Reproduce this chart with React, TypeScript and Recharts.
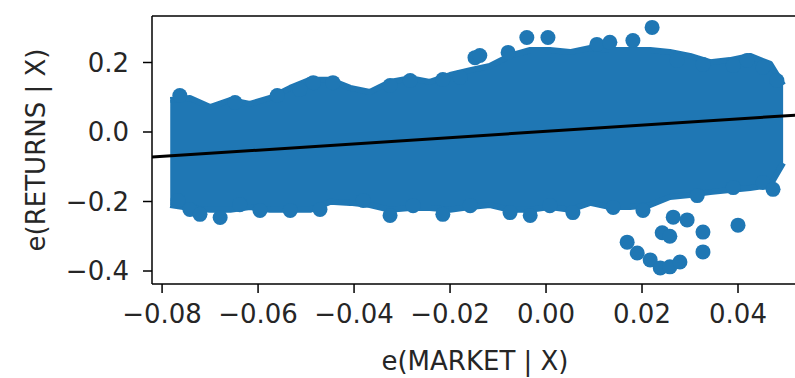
import React from "react";
import {
  ComposedChart,
  Scatter,
  Area,
  Line,
  XAxis,
  YAxis,
  ReferenceLine,
} from "recharts";

// dense core of the cloud: upper / lower edge
const coreX = [-0.0783, -0.0742, -0.07, -0.0658, -0.0617, -0.0575, -0.0533, -0.0492, -0.045, -0.0408, -0.0367, -0.0325, -0.0283, -0.0242, -0.02, -0.0158, -0.0117, -0.0075, -0.0033, 0.0008, 0.005, 0.0092, 0.0133, 0.0175, 0.0217, 0.0258, 0.03, 0.0342, 0.0383, 0.0425, 0.0467, 0.0494];
const coreHi = [0.092, 0.098, 0.072, 0.092, 0.081, 0.098, 0.127, 0.15, 0.15, 0.127, 0.115, 0.144, 0.155, 0.144, 0.164, 0.178, 0.19, 0.22, 0.236, 0.236, 0.23, 0.242, 0.236, 0.236, 0.236, 0.23, 0.219, 0.201, 0.207, 0.219, 0.196, 0.135];
const coreLo = [-0.21, -0.219, -0.224, -0.224, -0.216, -0.224, -0.224, -0.224, -0.201, -0.204, -0.21, -0.224, -0.219, -0.219, -0.224, -0.216, -0.21, -0.224, -0.224, -0.216, -0.224, -0.204, -0.216, -0.216, -0.21, -0.187, -0.181, -0.173, -0.167, -0.161, -0.153, -0.089];

// points along the top of the cloud
const topX = [-0.0763, -0.0648, -0.056, -0.0513, -0.0485, -0.0444, -0.0325, -0.0283, -0.0215, -0.0179, -0.0148, -0.0138, -0.0079, -0.004, 0.0004, 0.0106, 0.0133, 0.0181, 0.0221, 0.0273, 0.0327, 0.039, 0.0419, 0.0452, 0.0481];
const topY = [0.105, 0.085, 0.105, 0.122, 0.142, 0.142, 0.134, 0.148, 0.151, 0.157, 0.214, 0.22, 0.229, 0.272, 0.272, 0.252, 0.258, 0.263, 0.301, 0.206, 0.194, 0.191, 0.206, 0.186, 0.148];

// points along the bottom of the cloud
const bottomX = [-0.0767, -0.0742, -0.0721, -0.0679, -0.0638, -0.0596, -0.0533, -0.0471, -0.0381, -0.0325, -0.0277, -0.0215, -0.0158, -0.0075, -0.0033, 0.0008, 0.0056, 0.014, 0.0202, 0.0315, 0.039, 0.0452, 0.0473];
const bottomY = [-0.197, -0.223, -0.237, -0.246, -0.209, -0.226, -0.226, -0.223, -0.197, -0.24, -0.212, -0.237, -0.212, -0.232, -0.24, -0.212, -0.232, -0.217, -0.226, -0.183, -0.16, -0.145, -0.165];

// stray points below the cloud
const outX = [0.0169, 0.019, 0.0217, 0.0238, 0.0258, 0.0279, 0.0242, 0.0265, 0.0294, 0.0327, 0.0327, 0.04, 0.0258];
const outY = [-0.317, -0.348, -0.368, -0.391, -0.388, -0.374, -0.29, -0.245, -0.253, -0.288, -0.345, -0.268, -0.3];

// fitted line end points
const fitX = [-0.0821, 0.0525];
const fitY = [-0.072, 0.049];

const xTicks = [-0.08, -0.06, -0.04, -0.02, 0.0, 0.02, 0.04];
const yTicks = [-0.4, -0.2, 0.0, 0.2];

const BLUE = "#1f77b4";
const FONT = "DejaVu Sans";

const fmtX = (v: number) => v.toFixed(2).replace("-", "\u2212");
const fmtY = (v: number) => v.toFixed(1).replace("-", "\u2212");

const dot = (p: any) => <circle cx={p.cx} cy={p.cy} r={7.5} fill={BLUE} />;

export default function App() {
  const core = coreX.map((x, i) => ({ x, lo: coreLo[i], hi: coreHi[i] }));
  const points = [
    ...topX.map((x, i) => ({ x, y: topY[i] })),
    ...bottomX.map((x, i) => ({ x, y: bottomY[i] })),
    ...outX.map((x, i) => ({ x, y: outY[i] })),
  ];
  const fit = fitX.map((x, i) => ({ x, y: fitY[i] }));

  return (
    <div style={{ position: "absolute", left: 0, top: 0, width: 795, height: 378, overflow: "hidden", background: "#fff" }}>
      <ComposedChart
        width={798}
        height={378}
        margin={{ top: 16, right: 0, left: 0, bottom: 0 }}
        style={{ fontFamily: FONT }}
      >
        <XAxis
          type="number"
          dataKey="x"
          domain={[-0.0821, 0.0525]}
          ticks={xTicks}
          tickFormatter={fmtX}
          allowDataOverflow
          height={94}
          tickSize={9}
          tickMargin={12}
          axisLine={{ stroke: "#000", strokeWidth: 1.5 }}
          tickLine={{ stroke: "#000", strokeWidth: 1.5 }}
          tick={{ fill: "#262626", fontSize: 26 }}
          label={{ value: "e(MARKET | X)", position: "insideBottom", offset: 8, fill: "#262626", fontSize: 26 }}
        />
        <YAxis
          type="number"
          dataKey="y"
          domain={[-0.4374, 0.3338]}
          ticks={yTicks}
          tickFormatter={fmtY}
          allowDataOverflow
          width={152}
          tickSize={9}
          tickMargin={14}
          axisLine={{ stroke: "#000", strokeWidth: 1.5 }}
          tickLine={{ stroke: "#000", strokeWidth: 1.5 }}
          tick={{ fill: "#262626", fontSize: 26 }}
          label={{ value: "e(RETURNS | X)", angle: -90, position: "insideLeft", offset: 36, fill: "#262626", fontSize: 26, style: { textAnchor: "middle" } }}
        />
        <ReferenceLine y={0.3338} stroke="#000" strokeWidth={1.5} ifOverflow="visible" />
        <Area
          data={core}
          dataKey={(d: any) => [d.lo, d.hi]}
          type="linear"
          stroke={BLUE}
          strokeWidth={6}
          strokeLinejoin="round"
          fill={BLUE}
          fillOpacity={1}
          isAnimationActive={false}
        />
        <Scatter data={points} dataKey="y" fill={BLUE} shape={dot} isAnimationActive={false} />
        <Line data={fit} dataKey="y" stroke="#000" strokeWidth={3} dot={false} isAnimationActive={false} />
      </ComposedChart>
    </div>
  );
}
